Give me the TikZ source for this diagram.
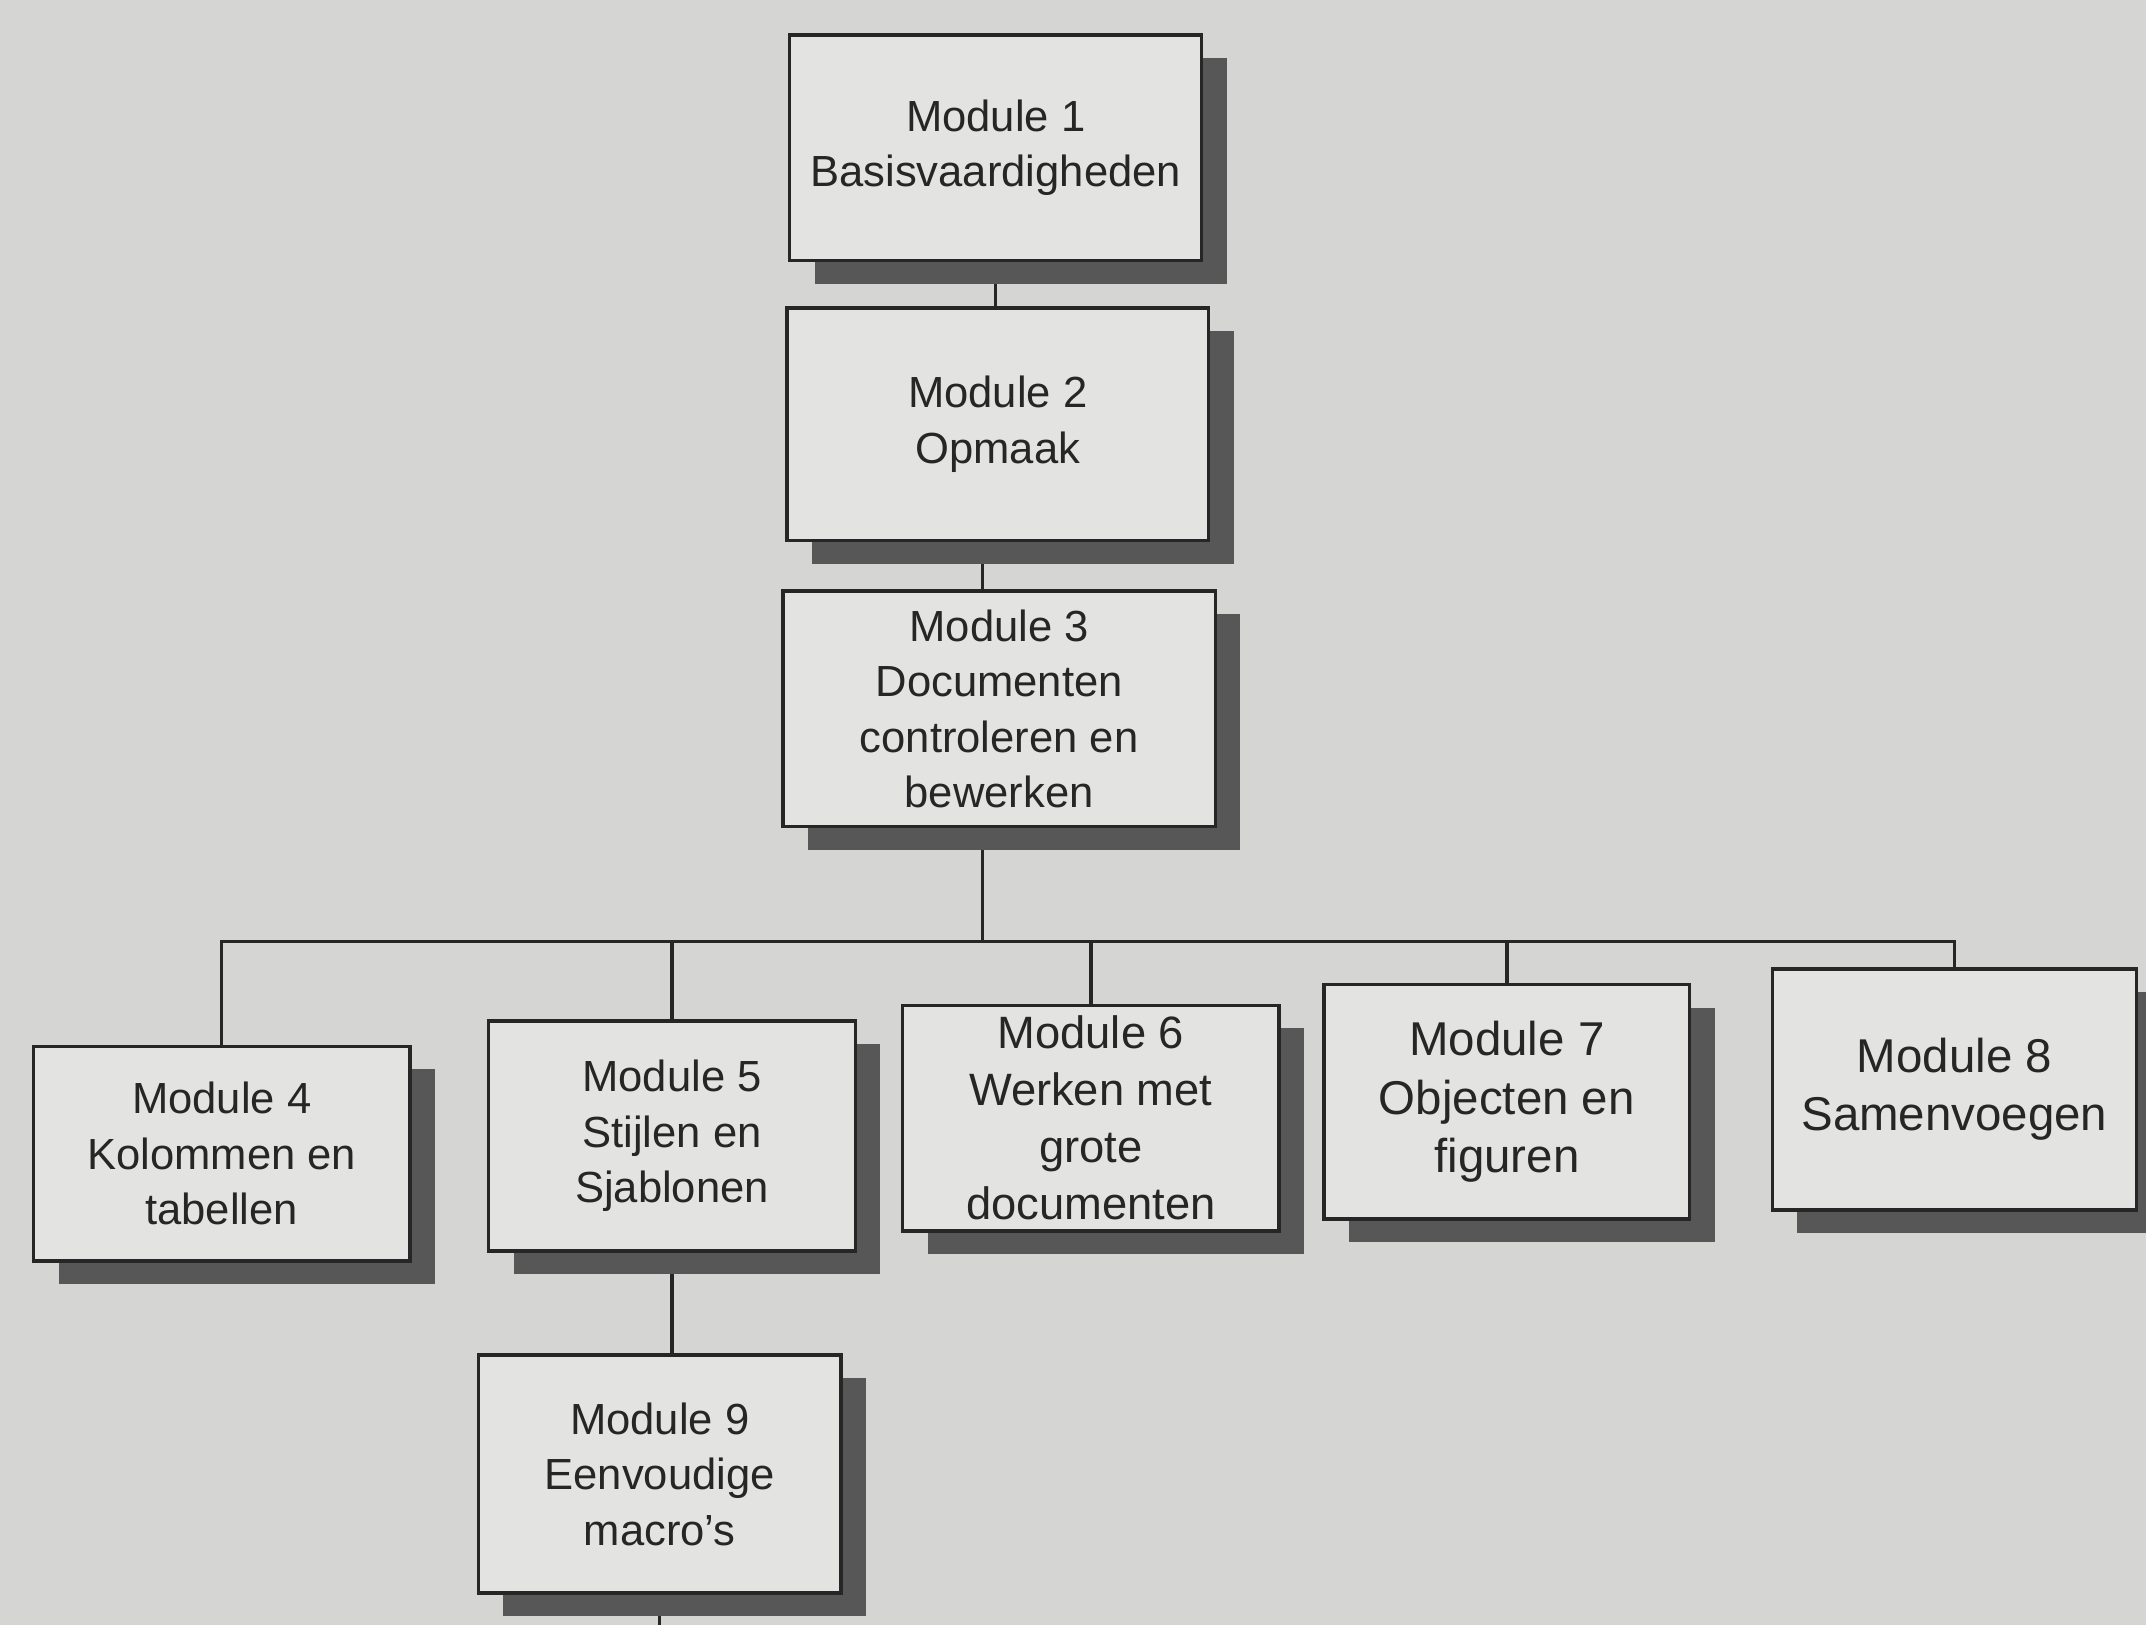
\documentclass[tikz,border=0pt]{standalone}
\usepackage{fontspec}
\setmainfont{Liberation Sans}
\usetikzlibrary{shadows,backgrounds}
\definecolor{paper}{HTML}{D5D6D3}
\definecolor{boxfill}{HTML}{E3E4E1}
\definecolor{shade}{HTML}{575757}
\definecolor{ink}{HTML}{262626}
% one drawing unit
\newcommand\spx{0.013686cm}
\begin{document}
\begin{tikzpicture}[x=\spx, y=-\spx,
  module/.style={draw=ink, line width=1pt, fill=boxfill, text=ink,
    align=center, inner sep=0pt, outer sep=0pt,
    font=\fontsize{12.4}{15.8}\selectfont,
    drop shadow={opacity=1, fill=shade, shadow xshift=0.25cm, shadow yshift=-0.23cm}},
  boxsize/.style 2 args={minimum width=#1*\spx, minimum height=#2*\spx},
  midtext/.style={font=\fontsize{12.9}{16.2}\selectfont},
  largetext/.style={font=\fontsize{13.5}{16.6}\selectfont},
  link/.style={draw=ink, line width=1pt}]
\clip (0,0) rectangle (1568,1187);
\useasboundingbox (0,0) rectangle (1568,1187);

% module boxes
\node[module, boxsize={301}{165}] (m1) at (727.5,108) {Module 1\\Basisvaardigheden};
\node[module, boxsize={308}{170}] (m2) at (729,310) {Module 2\\Opmaak};
\node[module, boxsize={316}{172}] (m3) at (730,518) {Module 3\\Documenten\\controleren en\\bewerken};
\node[module, boxsize={275}{157}] (m4) at (162,843) {Module 4\\Kolommen en\\tabellen};
\node[module, boxsize={268}{168}] (m5) at (491,830) {Module 5\\Stijlen en\\Sjablonen};
\node[module, midtext, boxsize={275}{165}] (m6) at (797,817) {Module 6\\Werken met\\grote\\documenten};
\node[module, largetext, boxsize={267}{171}] (m7) at (1101,805) {Module 7\\Objecten en\\figuren};
\node[module, largetext, boxsize={266}{176}] (m8) at (1428,796) {Module 8\\Samenvoegen};
\node[module, boxsize={265}{174}] (m9) at (482,1077) {Module 9\\Eenvoudige\\macro's};

% tree lines behind the boxes
\coordinate (trunk) at (718,0);
\coordinate (bus) at (718,688);
\coordinate (m9tail) at (482,1187);
\begin{pgfonlayer}{background}
  \fill[paper] (0,0) rectangle (1568,1187);
  \draw[link] (m1.south) -- (m1.south |- m2.north);
  \draw[link] (m2.south -| trunk) -- (m3.north -| trunk);
  \draw[link] (m3.south -| bus) -- (bus);
  \draw[link] (m4.north) -- (m4.north |- bus) -- (m8.north |- bus) -- (m8.north);
  \draw[link] (m5.north) -- (m5.north |- bus);
  \draw[link] (m6.north) -- (m6.north |- bus);
  \draw[link] (m7.north) -- (m7.north |- bus);
  \draw[link] (m5.south) -- (m5.south |- m9.north);
  \draw[link] (m9.south) -- (m9tail);
\end{pgfonlayer}
\end{tikzpicture}
\end{document}
